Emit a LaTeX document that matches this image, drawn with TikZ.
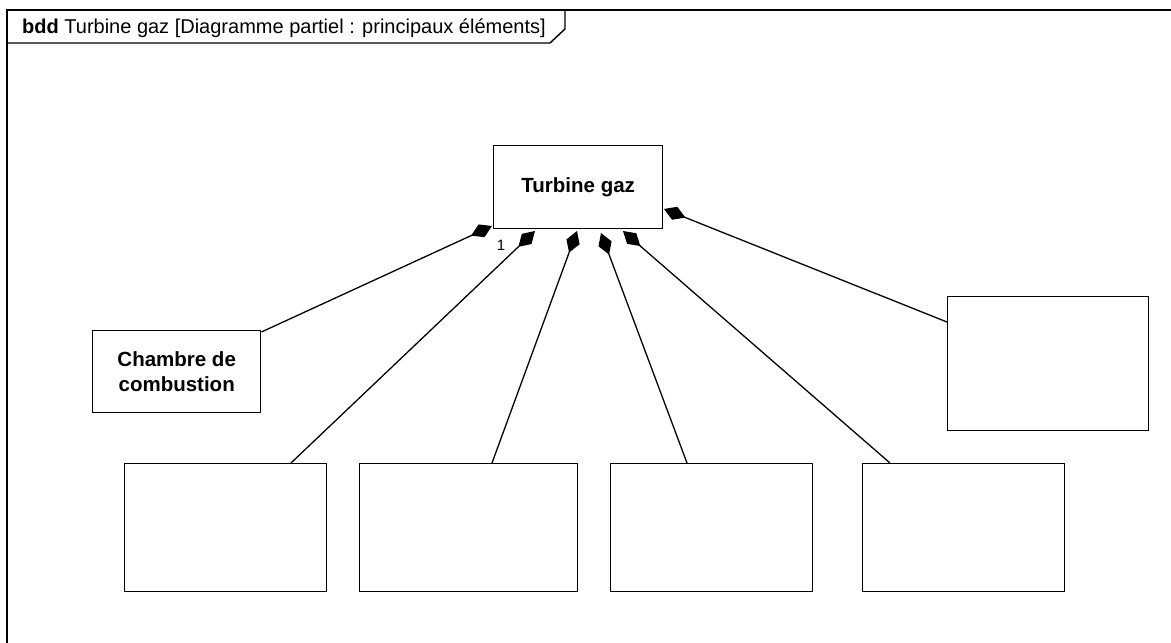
\documentclass[tikz,border=0pt]{standalone}
\usepackage{fontspec}
\setmainfont{Liberation Sans}
\usetikzlibrary{arrows.meta}
\begin{document}
\begin{tikzpicture}[x=1pt,y=-1pt,
  blk/.style={draw, line width=1.4pt, anchor=north west, inner sep=0pt, align=center,
    font=\fontsize{20.5}{24.5}\selectfont\bfseries},
  comp/.style={draw, line width=1.3pt, -{Diamond[length=23pt,width=14pt]}},
  hdr/.style={font=\fontsize{20}{24}\selectfont, inner sep=0pt, anchor=base west}]
\useasboundingbox (0,0) rectangle (1171,643);
\clip (0,0) rectangle (1171,643);
% frame
\draw[line width=1.7pt] (1180,10) -- (7,10) -- (7,660);
\draw[line width=1.4pt] (7,43) -- (550,43) -- (565,29) -- (565,10);
\node[hdr] (hd) at (22,33) {\textbf{bdd} Turbine gaz [Diagramme partiel : principaux éléments]};
% blocks
\node[blk, minimum width=169pt, minimum height=83pt] (tg) at (493,145) {Turbine gaz};
\node[blk, minimum width=168pt, minimum height=82pt] (cc) at (92,330) {Chambre de\\combustion};
\node[blk, minimum width=201pt, minimum height=134pt] (rb) at (947,296) {};
\node[blk, minimum width=202pt, minimum height=128pt] (b1) at (124,463) {};
\node[blk, minimum width=218pt, minimum height=128pt] (b2) at (359,463) {};
\node[blk, minimum width=202pt, minimum height=128pt] (b3) at (610,463) {};
\node[blk, minimum width=202pt, minimum height=128pt] (b4) at (862,463) {};
% diamond ends
\coordinate (t0) at (492,226);
\coordinate (t1) at (535,231);
\coordinate (t2) at (577,231);
\coordinate (t3) at (601,233);
\coordinate (t4) at (623,231);
\coordinate (t5) at (664,209);
% connectors
\draw[comp] (cc.north east) ++(0,2) -- (t0);
\draw[comp] ([xshift=167pt]b1.north west) -- (t1);
\draw[comp] ([xshift=133pt]b2.north west) -- (t2);
\draw[comp] ([xshift=77pt]b3.north west) -- (t3);
\draw[comp] ([xshift=28pt]b4.north west) -- (t4);
\draw[comp] ([yshift=-26pt]rb.north west) -- (t5);
\node[font=\fontsize{15}{17}\selectfont, inner sep=0pt] (one) at (501,245) {1};
\end{tikzpicture}
\end{document}
